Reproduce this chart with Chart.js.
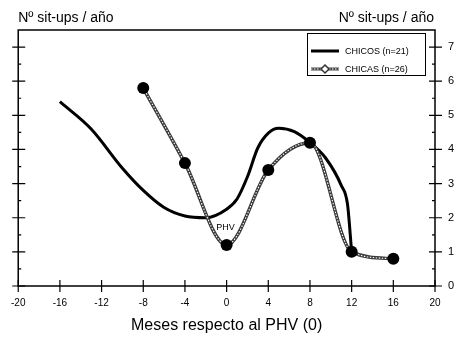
<!DOCTYPE html>
<html>
<head>
<meta charset="utf-8">
<script src="https://cdn.jsdelivr.net/npm/chart.js@4"></script>
<style>
  html, body { margin: 0; padding: 0; background: #fff; }
  #wrap { width: 460px; height: 337px; }
</style>
</head>
<body>
<div id="wrap"><canvas id="chart" width="460" height="337"></canvas></div>
<script>
// values
const girlsMonths = [-8, -4, 0, 4, 8, 12, 16];
const girlsValues = [5.8, 3.6, 1.2, 3.4, 4.2, 1.0, 0.8];
const boysMonths = [-16, -13, -10, -8, -6, -4, -2, 0, 1, 2, 3, 4, 5, 6.5, 8, 9.5, 11, 11.6, 12];
const boysValues = [5.4, 4.6, 3.45, 2.8, 2.3, 2.05, 2.0, 2.25, 2.55, 3.2, 4.05, 4.48, 4.62, 4.52, 4.2, 3.75, 2.95, 2.4, 1.0];
const xTicks = [-20, -16, -12, -8, -4, 0, 4, 8, 12, 16, 20];
const yTicks = [0, 1, 2, 3, 4, 5, 6, 7];
const seriesLabels = ['CHICOS (n=21)', 'CHICAS (n=26)'];
const yTitle = 'Nº sit-ups / año';
const xTitle = 'Meses respecto al PHV (0)';

const FONT = '"Liberation Sans", Arial, sans-serif';
const toPts = (xs, ys) => xs.map((x, i) => ({x: x, y: ys[i]}));
const girls = toPts(girlsMonths, girlsValues);
const boys = toPts(boysMonths, boysValues);

// frame, crossing tick marks, titles, PHV label and legend box
const decorations = {
  id: 'decorations',
  beforeDatasetsDraw(chart) {
    const {ctx, chartArea: a, scales: {x, y}} = chart;
    ctx.save();
    ctx.strokeStyle = '#000';
    ctx.lineWidth = 1.5;
    ctx.strokeRect(a.left, a.top, a.right - a.left, a.bottom - a.top);
    ctx.lineWidth = 1.2;
    ctx.beginPath();
    for (const v of xTicks) {
      const px = x.getPixelForValue(v);
      ctx.moveTo(px, a.bottom - 6); ctx.lineTo(px, a.bottom + 6);
    }
    for (const v of yTicks) {
      const py = y.getPixelForValue(v);
      ctx.moveTo(a.left - 6, py); ctx.lineTo(a.left + 7, py);
      ctx.moveTo(a.right - 6, py); ctx.lineTo(a.right + 7, py);
      const ph = y.getPixelForValue(v + 0.5);
      if (v + 0.5 < 7.5) {
        ctx.moveTo(a.left, ph); ctx.lineTo(a.left + 3, ph);
        ctx.moveTo(a.right - 3, ph); ctx.lineTo(a.right, ph);
      }
    }
    ctx.stroke();
    ctx.restore();
  },
  afterDatasetsDraw(chart) {
    const {ctx, chartArea: a, scales: {x, y}} = chart;
    ctx.save();
    ctx.fillStyle = '#000';
    ctx.font = '14px ' + FONT;
    ctx.textBaseline = 'alphabetic';
    ctx.textAlign = 'left';
    ctx.fillText(yTitle, a.left, 22);
    ctx.textAlign = 'right';
    ctx.fillText(yTitle, a.right - 1, 22);

    ctx.font = '9px ' + FONT;
    ctx.textAlign = 'center';
    ctx.textBaseline = 'middle';
    ctx.fillText('PHV', x.getPixelForValue(-0.1), y.getPixelForValue(1.72));

    // legend
    const L = 307, T = 33, R = 425, B = 75;
    ctx.fillStyle = '#fff';
    ctx.fillRect(L, T, R - L, B - T);
    ctx.strokeStyle = '#000';
    ctx.lineWidth = 1;
    ctx.strokeRect(L + 0.5, T + 0.5, R - L, B - T);
    const r1 = 51, r2 = 69;
    ctx.lineWidth = 3;
    ctx.beginPath(); ctx.moveTo(311, r1); ctx.lineTo(339, r1); ctx.stroke();
    ctx.strokeStyle = '#444';
    ctx.lineWidth = 3;
    ctx.beginPath(); ctx.moveTo(311, r2); ctx.lineTo(339, r2); ctx.stroke();
    ctx.strokeStyle = '#fff';
    ctx.lineWidth = 1;
    ctx.setLineDash([1.5, 1.5]);
    ctx.beginPath(); ctx.moveTo(311, r2); ctx.lineTo(339, r2); ctx.stroke();
    ctx.setLineDash([]);
    ctx.fillStyle = '#fff';
    ctx.strokeStyle = '#333';
    ctx.lineWidth = 1.5;
    ctx.beginPath();
    ctx.moveTo(325, r2 - 4); ctx.lineTo(329, r2); ctx.lineTo(325, r2 + 4); ctx.lineTo(321, r2);
    ctx.closePath(); ctx.fill(); ctx.stroke();
    ctx.fillStyle = '#000';
    ctx.font = '9px ' + FONT;
    ctx.textAlign = 'left';
    ctx.fillText(seriesLabels[0], 345, r1 + 0.5);
    ctx.fillText(seriesLabels[1], 345, r2 + 0.5);
    ctx.restore();
  }
};

new Chart(document.getElementById('chart'), {
  type: 'line',
  data: {
    datasets: [
      { // girls markers on top
        label: seriesLabels[1] + ' markers',
        data: girls,
        showLine: false,
        pointRadius: 6,
        pointBackgroundColor: '#000',
        pointBorderWidth: 0
      },
      { // white dotted core of the girls line
        label: seriesLabels[1] + ' core',
        data: girls,
        borderColor: '#fff',
        borderWidth: 1.1,
        borderDash: [1.5, 1.5],
        cubicInterpolationMode: 'monotone',
        pointRadius: 0
      },
      {
        label: seriesLabels[1],
        data: girls,
        borderColor: '#3a3a3a',
        borderWidth: 3.5,
        cubicInterpolationMode: 'monotone',
        pointRadius: 0
      },
      {
        label: seriesLabels[0],
        data: boys,
        borderColor: '#000',
        borderWidth: 3,
        cubicInterpolationMode: 'monotone',
        pointRadius: 0
      }
    ]
  },
  options: {
    responsive: false,
    animation: false,
    layout: { padding: { left: 10, top: 30, right: 0, bottom: 0 } },
    scales: {
      x: {
        type: 'linear',
        min: -20,
        max: 20,
        grid: { display: false, drawTicks: false },
        border: { display: false },
        afterFit: (s) => { s.height = 51; },
        ticks: {
          stepSize: 4,
          padding: 11,
          color: '#000',
          font: { family: FONT, size: 10 }
        },
        title: {
          display: true,
          text: xTitle,
          color: '#000',
          padding: { top: 0, bottom: 2 },
          font: { family: FONT, size: 16 }
        }
      },
      y: {
        position: 'right',
        min: 0,
        max: 7.5,
        grid: { display: false, drawTicks: false },
        border: { display: false },
        afterFit: (s) => { s.width = 25; },
        afterBuildTicks: (s) => { s.ticks = yTicks.map(v => ({value: v})); },
        ticks: {
          stepSize: 1,
          padding: 13,
          color: '#000',
          font: { family: FONT, size: 11 }
        }
      }
    },
    plugins: {
      legend: { display: false },
      tooltip: { enabled: false }
    }
  },
  plugins: [decorations]
});
</script>
</body>
</html>
